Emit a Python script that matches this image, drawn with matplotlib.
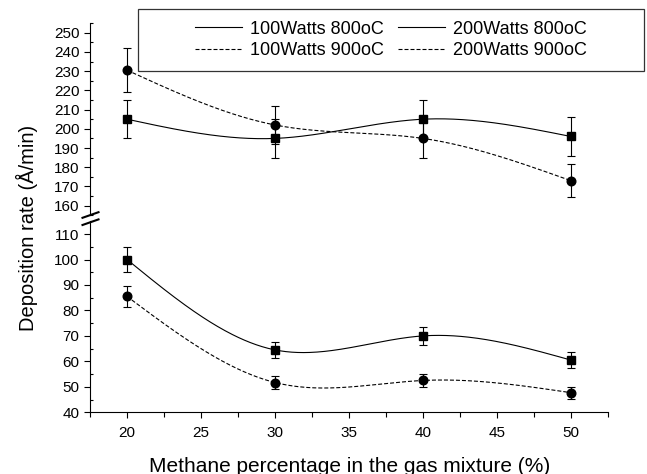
import numpy as np
import matplotlib
matplotlib.use("Agg")
import matplotlib.pyplot as plt
from matplotlib.lines import Line2D
from matplotlib.patches import Rectangle
from matplotlib.ticker import MultipleLocator

# values
methane = [20, 30, 40, 50]

rate_200w_800 = [205, 195, 205, 196]
err_200w_800 = [10, 10, 10, 10]
rate_200w_900 = [230.5, 202, 195, 173]
err_200w_900 = [11.5, 10, 10, 8.5]

rate_100w_800 = [100, 64.5, 70, 60.5]
err_100w_800 = [5, 3.3, 3.4, 3]
rate_100w_900 = [85.5, 51.7, 52.5, 47.7]
err_100w_900 = [4.2, 2.6, 2.5, 2.4]

legend_labels = ["100Watts 800oC", "100Watts 900oC", "200Watts 800oC", "200Watts 900oC"]
x_label = "Methane percentage in the gas mixture (%)"
y_label = "Deposition rate (Å/min)"


def natural_spline(x, y, n=300):
    # smooth connecting curve through the measured points (natural cubic spline)
    x = np.asarray(x, float)
    y = np.asarray(y, float)
    k = len(x)
    h = np.diff(x)
    A = np.zeros((k, k))
    b = np.zeros(k)
    A[0, 0] = A[-1, -1] = 1
    for i in range(1, k - 1):
        A[i, i - 1] = h[i - 1]
        A[i, i] = 2 * (h[i - 1] + h[i])
        A[i, i + 1] = h[i]
        b[i] = 6 * ((y[i + 1] - y[i]) / h[i] - (y[i] - y[i - 1]) / h[i - 1])
    m = np.linalg.solve(A, b)
    xs = np.linspace(x[0], x[-1], n)
    idx = np.clip(np.searchsorted(x, xs) - 1, 0, k - 2)
    x0, x1 = x[idx], x[idx + 1]
    hh = x1 - x0
    t0, t1 = x1 - xs, xs - x0
    ys = (m[idx] * t0 ** 3 + m[idx + 1] * t1 ** 3) / (6 * hh) \
        + (y[idx] / hh - m[idx] * hh / 6) * t0 \
        + (y[idx + 1] / hh - m[idx + 1] * hh / 6) * t1
    return xs, ys


plt.rcParams['font.family'] = ['Liberation Sans', 'DejaVu Sans']

W, H = 647, 474
fig = plt.figure(figsize=(W / 100, H / 100), dpi=100)

left, width = 90 / W, 518 / W
ax_top = fig.add_axes([left, (H - 215.3) / H, width, 192.2 / H])
ax_bot = fig.add_axes([left, (H - 412.3) / H, width, 191.0 / H])

dash = (0, (3.6, 1.8))
lw = 0.8

series = [
    (ax_bot, rate_100w_800, err_100w_800, 's', '-', legend_labels[0]),
    (ax_bot, rate_100w_900, err_100w_900, 'o', dash, legend_labels[1]),
    (ax_top, rate_200w_800, err_200w_800, 's', '-', legend_labels[2]),
    (ax_top, rate_200w_900, err_200w_900, 'o', dash, legend_labels[3]),
]

handles = []
for ax, vals, errs, mk, ls, lab in series:
    xs, ys = natural_spline(methane, vals)
    line, = ax.plot(xs, ys, color='black', linestyle=ls, linewidth=lw, label=lab)
    handles.append(line)
    ax.errorbar(methane, vals, yerr=errs, fmt=mk, color='black',
                markersize=6.2 if mk == 'o' else 5.6, elinewidth=0.8,
                capsize=2.7, capthick=0.8, zorder=3)

for ax in (ax_top, ax_bot):
    ax.set_xlim(17.5, 52.5)
    ax.spines['top'].set_visible(False)
    ax.spines['right'].set_visible(False)
    ax.yaxis.set_major_locator(MultipleLocator(10))
    ax.yaxis.set_minor_locator(MultipleLocator(5))
    ax.tick_params(axis='y', which='major', direction='out', length=4.2, width=0.8,
                   labelsize=11, pad=3.5)
    ax.tick_params(axis='y', which='minor', direction='in', length=2.4, width=0.8)
    ax.patch.set_visible(False)

ax_top.set_ylim(155, 255)
ax_bot.set_ylim(40, 115)
ax_top.spines['bottom'].set_visible(False)
ax_top.tick_params(axis='x', which='both', bottom=False, labelbottom=False)

ax_bot.xaxis.set_major_locator(MultipleLocator(5))
ax_bot.xaxis.set_minor_locator(MultipleLocator(2.5))
ax_bot.tick_params(axis='x', which='major', direction='out', length=4.3, width=0.8,
                   labelsize=11, pad=5.5)
ax_bot.tick_params(axis='x', which='minor', direction='out', length=3.6, width=0.8)

# axis break marks on the left spine
sx = 90 / W
for yc in (215.0, 222.2):
    fig.add_artist(Line2D([sx - 7.5 / W, sx + 8.5 / W],
                          [(H - yc - 2.8) / H, (H - yc + 2.8) / H],
                          transform=fig.transFigure, color='black', linewidth=1.5))

# axis titles
fig.text(27 / W, 1 - 227.5 / H, y_label, rotation=90, ha='center', va='center', fontsize=14.5)
fig.text(350 / W, 1 - 471.5 / H, x_label, ha='center', va='baseline', fontsize=15)

# legend box sitting across the top of the plot
fig.add_artist(Rectangle((138 / W, 1 - 71 / H), 506 / W, 62 / H, transform=fig.transFigure,
                         fill=False, edgecolor='#333333', linewidth=0.9))
fig.legend(handles, legend_labels, loc='center', bbox_to_anchor=(391 / W, 1 - 40 / H),
           ncol=2, frameon=False, fontsize=13, handlelength=2.6, handletextpad=0.45,
           columnspacing=0.8, labelspacing=0.25, borderpad=0)

fig.savefig('out.png', dpi=100)
